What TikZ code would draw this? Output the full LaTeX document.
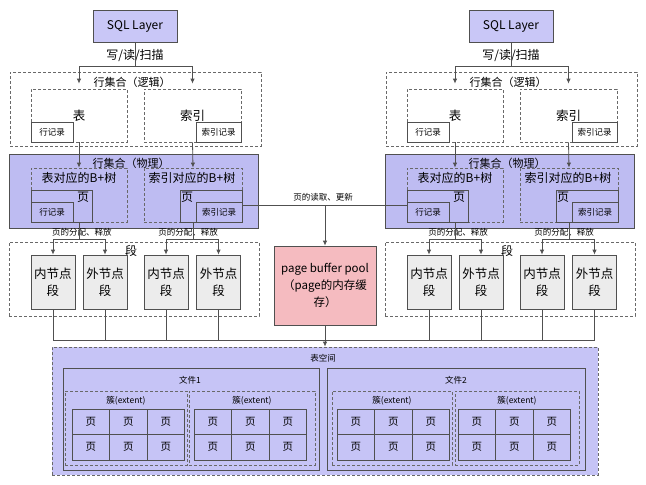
\documentclass[tikz,border=0pt]{standalone}
\usepackage{fontspec}
\setmainfont{Noto Sans CJK SC}
\usetikzlibrary{arrows.meta}
\definecolor{linegray}{RGB}{80, 80, 80}
\definecolor{dashgray}{RGB}{105, 105, 105}
\definecolor{sqlfill}{RGB}{201, 199, 247}
\definecolor{physfill}{RGB}{190, 188, 242}
\definecolor{tsfill}{RGB}{198, 196, 246}
\definecolor{poolfill}{RGB}{245, 187, 192}
\definecolor{segfill}{RGB}{236, 236, 236}

\begin{document}
\begin{tikzpicture}[x=1pt,y=-1pt,
    box/.style={draw=linegray,line width=0.8pt,inner sep=0pt,align=center},
    dbox/.style={draw=dashgray,line width=0.8pt,dash pattern=on 3pt off 2pt,inner sep=0pt},
    sqlbox/.style={box,fill=sqlfill,minimum width=84pt,minimum height=32pt,font=\fontsize{12}{14}\selectfont},
    recbox/.style={box,minimum height=19.5pt,font=\fontsize{8.5}{10}\selectfont},
    pagebox/.style={box,fill=physfill,minimum height=32pt},
    segbox/.style={box,fill=segfill,minimum width=44pt,minimum height=54pt,font=\fontsize{12.5}{17}\selectfont},
    cell/.style={box,minimum width=37.5pt,minimum height=25.5pt,font=\fontsize{10.5}{12}\selectfont},
    txt/.style={inner sep=0pt,font=\fontsize{12}{14}\selectfont},
    smalltxt/.style={inner sep=0pt,font=\fontsize{8.5}{10}\selectfont},
    arr/.style={-{Latex[length=5pt,width=4.5pt]},draw=linegray,line width=0.8pt},
    wire/.style={draw=linegray,line width=0.8pt}
]
\useasboundingbox (0,0) rectangle (646,485);

% two storage engines side by side
\foreach \s/\o in {L/0,R/376}{
  % SQL layer and logical row set
  \node[sqlbox] (sql\s) at ({\o+135},26) {SQL Layer};
  \node[txt] (wrs\s) at ({\o+135},56) {写/读/扫描};
  \node[dbox,minimum width=251pt,minimum height=74pt] (lgc\s) at ({\o+135.5},109) {};
  \node[txt,font=\fontsize{11}{13}\selectfont] (lgcT\s) at ({\o+132},82) {行集合（逻辑）};
  \node[dbox,minimum width=96pt,minimum height=53pt,font=\fontsize{12.5}{14}\selectfont] (tbl\s) at ({\o+79},115.5) {表};
  \node[recbox,minimum width=42pt] (tblrec\s) at ({\o+52},132.5) {行记录};
  \node[dbox,minimum width=97pt,minimum height=53pt,font=\fontsize{12.5}{14}\selectfont] (idx\s) at ({\o+192.5},115.5) {索引};
  \node[recbox,minimum width=45pt] (idxrec\s) at ({\o+218.5},132.5) {索引记录};
  % physical row set
  \node[box,fill=physfill,minimum width=249pt,minimum height=74pt] (phy\s) at ({\o+133.5},191) {};
  \node[txt,font=\fontsize{11}{13}\selectfont] (phyT\s) at ({\o+131},163) {行集合（物理）};
  \node[dbox,minimum width=96pt,minimum height=54pt] (btt\s) at ({\o+79},195) {};
  \node[txt] (bttT\s) at ({\o+79},178) {表对应的B+树};
  \node[pagebox,minimum width=61pt] (tpg\s) at ({\o+61.5},206) {};
  \node[txt] (tpgT\s) at ({\o+83},197) {页};
  \node[recbox,fill=physfill,minimum width=42pt,minimum height=20pt] (tblrecp\s) at ({\o+52},212) {行记录};
  \node[dbox,minimum width=98pt,minimum height=54pt] (bti\s) at ({\o+193},195) {};
  \node[txt] (btiT\s) at ({\o+192},178) {索引对应的B+树};
  \node[pagebox,minimum width=62pt] (ipg\s) at ({\o+211},206) {};
  \node[txt] (ipgT\s) at ({\o+187},197) {页};
  \node[recbox,fill=physfill,minimum width=46pt,minimum height=20pt] (idxrecp\s) at ({\o+219},212) {索引记录};
  % segments
  \node[dbox,minimum width=250pt,minimum height=74pt] (seg\s) at ({\o+134},279) {};
  \node[txt] (segT\s) at ({\o+131},251) {段};
  \node[segbox] (in\s1) at ({\o+53},282) {内节点\\段};
  \node[segbox] (ex\s1) at ({\o+105},282) {外节点\\段};
  \node[segbox] (in\s2) at ({\o+166},282) {内节点\\段};
  \node[segbox] (ex\s2) at ({\o+218.5},282) {外节点\\段};
  \node[smalltxt] (alcT\s) at ({\o+82},232) {页的分配、释放};
  \node[smalltxt] (alcI\s) at ({\o+188},232) {页的分配、释放};
  % connectors
  \draw[arr,shorten >=5pt] (sql\s.south) -- ++(0,24) -| (tbl\s.north);
  \draw[arr,shorten >=5pt] (sql\s.south) -- ++(0,24) -| (idx\s.north);
  \draw[arr] (tbl\s.south) -- (btt\s.north);
  \draw[arr] (idx\s.south) -- (bti\s.north);
  \draw[arr] (btt\s.south) -- ++(0,17) -| (in\s1.north);
  \draw[arr] (btt\s.south) -- ++(0,17) -| (ex\s1.north);
  \draw[arr] (bti\s.south) -- ++(0,17) -| (in\s2.north);
  \draw[arr] (bti\s.south) -- ++(0,17) -| (ex\s2.north);
}

% buffer pool
\node[box,fill=poolfill,minimum width=102pt,minimum height=79pt,font=\fontsize{11.5}{17}\selectfont] (pool) at (325,285.5) {page buffer pool\\（page的内存缓\\存）};
\coordinate (rw) at (325,205);
\node[smalltxt] (rwT) at (323,197) {页的读取、更新};
\draw[wire] (idxrecpL.east |- rw) -- (tblrecpR.west |- rw);
\draw[arr] (rw) -- (pool.north);

% tablespace
\node[box,fill=tsfill,draw=dashgray,dash pattern=on 3pt off 2pt,minimum width=546pt,minimum height=128pt] (ts) at (325,411) {};
\node[smalltxt] (tsT) at (323,358) {表空间};
\node[box,minimum width=256pt,minimum height=102pt] (f1) at (191,419) {};
\node[smalltxt] (f1T) at (190,380) {文件1};
\node[box,minimum width=258pt,minimum height=102pt] (f2) at (456,419) {};
\node[smalltxt] (f2T) at (456,380) {文件2};
\foreach \i/\ex/\ew/\gx in {1/126/122/72, 2/252/126/194, 3/392/120/337, 4/517/124/458}{
  \node[dbox,minimum width={\ew pt},minimum height=74pt] (ext\i) at (\ex,428) {};
  \node[smalltxt] (extT\i) at (\ex,401) {簇(extent)};
  \foreach \r in {0,1}
    \foreach \c in {0,1,2}
      \node[cell] (pg\i\r\c) at ({\gx+18.75+37.5*\c},{421.75+25.5*\r}) {页};
}

% segments and pool down to the tablespace
\coordinate (bus) at (325,340);
\foreach \n in {inL1,exL1,inL2,exL2,inR1,exR1,inR2,exR2}
  \draw[wire] (\n.south) -- (\n.south |- bus);
\draw[wire] (inL1.south |- bus) -- (exR2.south |- bus);
\draw[arr] (pool.south) -- (ts.north);
\end{tikzpicture}
\end{document}
